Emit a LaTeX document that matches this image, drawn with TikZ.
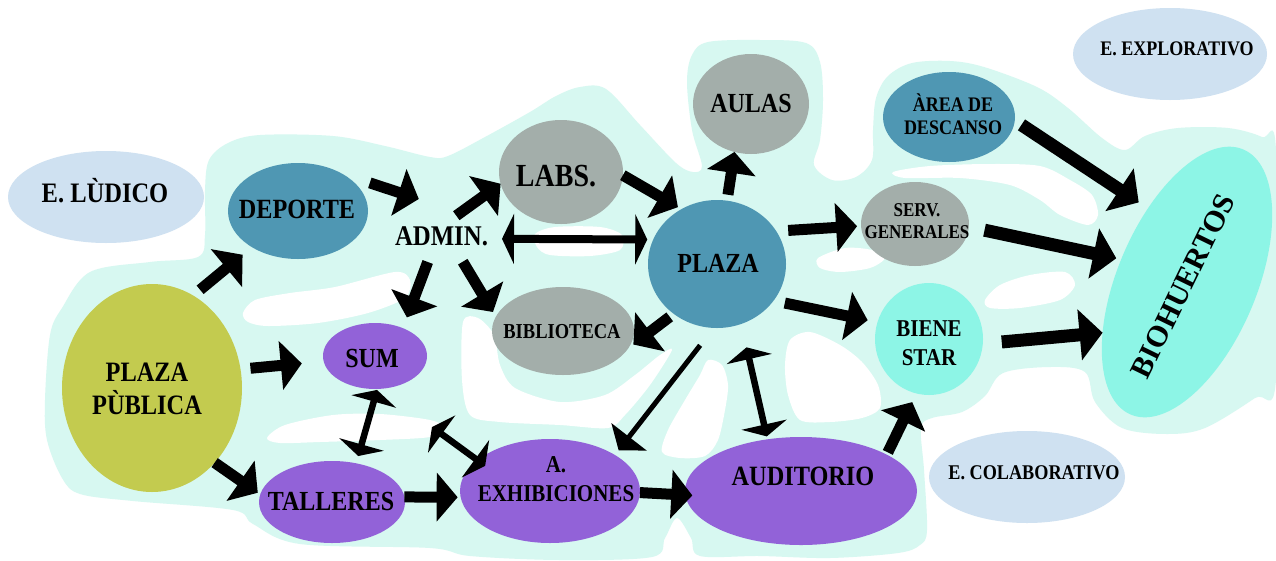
\documentclass[tikz,border=0pt]{standalone}
\usepackage{fontspec}
\setmainfont{Liberation Serif}[BoldFont={Liberation Serif Bold}]
\usetikzlibrary{arrows.meta,shapes.geometric}
\definecolor{mint}{RGB}{215,248,241}
\definecolor{lblue}{RGB}{207,225,241}
\definecolor{teal}{RGB}{79,151,179}
\definecolor{grayn}{RGB}{163,174,170}
\definecolor{purp}{RGB}{146,98,216}
\definecolor{olive}{RGB}{195,203,79}
\definecolor{cyann}{RGB}{141,245,230}
\newcommand\myfs[1]{\bfseries\fontsize{#1}{#1}\selectfont}
\newcommand\myfsb[2]{\bfseries\fontsize{#1}{#2}\selectfont}
\begin{document}
\begin{tikzpicture}[x=1pt,y=-1pt,
  ell/.style={ellipse, inner sep=0pt, outer sep=0pt, draw=none},
  txt/.style={inner sep=0pt, outer sep=0pt, anchor=base, yscale=1.15, transform shape},
  mtxt/.style={inner sep=0pt, outer sep=0pt, anchor=center, align=center, yscale=1.15, transform shape},
  bigarrow/.style={line width=11pt, -{Triangle[length=21pt,width=48pt]}},
  bigarrowB/.style={line width=13pt, -{Triangle[length=23pt,width=50pt]}},
  thinarrow/.style={line width=5pt, -{Triangle[length=17pt,width=44pt]}},
  dblarrow/.style={line width=6.5pt, {Triangle[length=12pt,width=46pt]}-{Triangle[length=12pt,width=46pt]}},
  dblarrowA/.style={line width=8pt, {Triangle[length=12pt,width=50pt]}-{Triangle[length=12pt,width=50pt]}}
]
\useasboundingbox (0,0) rectangle (1276,560);
\fill[white] (0,0) rectangle (1276,560);
% background blob
\fill[mint] plot[smooth cycle, tension=0.55] coordinates {
(47,440) (45,400) (50,335) (62,308) (90,272) (150,262) (198,257) (205,235) (205,190) (209,160) (228,143) (260,135) (333,136) (385,146) (430,157) (448,156) (485,137) (530,112) (556,96) (580,87) (606,89) (640,125) (676,163) (693,172) (702,166) (692,130) (687,82) (692,55) (708,42) (760,40) (806,43) (820,62) (823,100) (820,140) (814,165) (832,180) (856,177) (872,160) (873,130) (876,98) (888,76) (912,63) (950,61) (984,67) (1037,87) (1068,108) (1102,138) (1125,150) (1145,136) (1178,128) (1228,128) (1262,137) (1276,150) (1276,380) (1255,398) (1205,428) (1167,434) (1122,428) (1095,402) (1085,372) (1050,367) (1003,373) (985,396) (962,412) (932,418) (921,428) (924,470) (927,530) (920,545) (898,553) (830,558) (760,556) (700,556) (691,538) (677,518) (665,538) (652,557) (560,560) (470,556) (430,548) (300,544) (253,524) (233,510) (133,501) (80,494) (62,478)};
% holes
\fill[white] plot[smooth cycle] coordinates {(243,313) (255,300) (290,293) (335,287) (395,272) (410,280) (405,298) (368,313) (318,323) (268,326) (248,322)};
\fill[white] plot[smooth cycle] coordinates {(267,438) (285,425) (333,415) (380,414) (430,420) (445,428) (430,437) (380,440) (320,442) (280,443)};
\fill[white] plot[smooth cycle] coordinates {(535,234) (555,227) (600,227) (622,235) (620,250) (590,256) (550,255) (537,247)};
\fill[white] plot[smooth cycle] coordinates {(463,322) (478,318) (494,335) (500,365) (515,388) (560,402) (605,395) (635,375) (660,355) (672,350) (650,385) (625,415) (608,428) (560,425) (500,422) (470,415) (462,380)};
\fill[white] plot[smooth cycle] coordinates {(708,360) (722,365) (728,385) (725,410) (718,440) (705,456) (680,458) (662,452) (668,430) (685,400) (700,375)};
\fill[white] plot[smooth cycle] coordinates {(790,340) (810,332) (840,345) (862,362) (878,385) (880,408) (862,418) (830,422) (800,420) (788,395) (785,365)};
\fill[white] plot[smooth cycle] coordinates {(818,258) (845,248) (872,250) (885,258) (870,268) (840,272) (820,268)};
\fill[white] plot[smooth cycle] coordinates {(985,300) (1000,285) (1030,275) (1065,272) (1075,285) (1060,300) (1020,308) (990,308)};
\fill[white] plot[smooth cycle] coordinates {(893,172) (930,166) (990,164) (1040,166) (1070,180) (1092,195) (1098,215) (1088,225) (1060,215) (1040,200) (1010,185) (960,178) (905,178)};
% ellipses
\node[ell, fill=lblue, minimum width=196, minimum height=92] (ludico) at (106,197) {};
\node[ell, fill=teal, minimum width=140, minimum height=96] (deporte) at (298,211) {};
\node[ell, fill=olive, minimum width=180, minimum height=208] (ppub) at (152,388) {};
\node[ell, fill=purp, minimum width=104, minimum height=66] (sum) at (375,356) {};
\node[ell, fill=purp, minimum width=146, minimum height=82] (talleres) at (332,502) {};
\node[ell, fill=grayn, minimum width=124, minimum height=104] (labs) at (561,172) {};
\node[ell, fill=grayn, minimum width=142, minimum height=88] (biblio) at (563,331) {};
\node[ell, fill=teal, minimum width=138, minimum height=128] (plaza) at (717,264) {};
\node[ell, fill=grayn, minimum width=116, minimum height=100] (aulas) at (751,104) {};
\node[ell, fill=teal, minimum width=132, minimum height=90] (area) at (949,117) {};
\node[ell, fill=grayn, minimum width=108, minimum height=84] (serv) at (915,224) {};
\node[ell, fill=cyann, minimum width=108, minimum height=112] (biene) at (929,339) {};
\node[ell, fill=lblue, minimum width=194, minimum height=92] (explor) at (1170,54) {};
\node[ell, fill=cyann, rotate=67, minimum width=288, minimum height=139] (bio) at (1187,282) {};
\node[ell, fill=lblue, minimum width=196, minimum height=92] (colab) at (1027,477) {};
\node[ell, fill=purp, minimum width=180, minimum height=104] (exhib) at (550,491) {};
\node[ell, fill=purp, minimum width=232, minimum height=108] (audit) at (801,491) {};
% texts
\node[txt, font=\myfs{24.5}] (t-ludico) at (105,202) {E. LÙDICO};
\node[txt, font=\myfs{24.2}] (t-deporte) at (297,218) {DEPORTE};
\node[mtxt, font=\myfsb{24.4}{28.7}] (t-ppub) at (147,389.2) {PLAZA\\PÙBLICA};
\node[txt, font=\myfs{24}] (t-sum) at (372,367) {SUM};
\node[txt, font=\myfs{24}] (t-talleres) at (331,510.5) {TALLERES};
\node[txt, inner sep=3pt, font=\myfs{24.8}] (admin) at (441.5,245) {ADMIN.};
\node[txt, font=\myfs{28}] (t-labs) at (556,186) {LABS.};
\node[txt, font=\myfs{18.5}] (t-biblio) at (562,338.3) {BIBLIOTECA};
\node[txt, font=\myfs{24}] (t-plaza) at (718,272) {PLAZA};
\node[txt, font=\myfs{24}] (t-aulas) at (751,112) {AULAS};
\node[mtxt, font=\myfsb{18}{20}] (t-area) at (953,114.4) {ÀREA DE\\DESCANSO};
\node[mtxt, font=\myfsb{17}{19.1}] (t-serv) at (917,221.5) {SERV.\\GENERALES};
\node[mtxt, font=\myfsb{21}{25.2}] (t-biene) at (929,343.5) {BIENE\\STAR};
\node[txt, font=\myfs{18}] (t-explor) at (1177,55) {E. EXPLORATIVO};
\node[txt, font=\myfs{18.2}] (t-colab) at (1034,479) {E. COLABORATIVO};
\node[inner sep=0pt, rotate=64, font=\myfs{30}] (t-bio) at (1183,286) {BIOHUERTOS};
\node[mtxt, font=\myfsb{21}{25.2}] (t-exhib) at (556,479.5) {A.\\EXHIBICIONES};
\node[txt, font=\myfs{24.3}] (t-audit) at (803,485) {AUDITORIO};
\coordinate (xfree) at (432,427);
% arrows
\draw[bigarrow, shorten <=9pt, shorten >=12pt] (ppub.66) -- (deporte.218.5);
\draw[bigarrow, shorten <=29pt, shorten >=76pt] (deporte.40) -- (admin.north east);
\draw[bigarrow, shorten <=12pt] (admin.66) -- (labs.191);
\draw[dblarrowA, shorten <=11pt, shorten >=6pt] (admin.-3) -- (plaza.159.4);
\draw[bigarrow, shorten <=14pt, shorten >=11.5pt] (admin.232) -- (sum.45);
\draw[bigarrow, shorten <=15pt, shorten >=5.5pt] (admin.-40) -- (biblio.168);
\draw[bigarrow, shorten >=4pt] (labs.-3) -- (plaza.123);
\draw[bigarrow, shorten <=6pt] (plaza.81) -- (aulas.251);
\draw[bigarrow, shorten <=5pt, shorten >=6.5pt] (plaza.229) -- (biblio.-15);
\draw[thinarrow, shorten <=22pt, shorten >=6pt] (plaza.267) -- (exhib.29);
\draw[dblarrow, shorten <=24pt, shorten >=3pt] (plaza.292.5) -- (audit.123);
\draw[bigarrow, shorten <=12pt, shorten >=4pt] (plaza.29) -- (serv.182);
\draw[bigarrow, shorten <=11.5pt, shorten >=10pt] (plaza.-33) -- (biene.162);
\draw[bigarrowB, shorten <=8pt, shorten >=11pt] (area.-3) -- (bio.51.6);
\draw[bigarrowB, shorten <=16pt, shorten >=5pt] (serv.-3) -- (bio.94);
\draw[bigarrowB, shorten <=19pt] (biene.-5) -- (bio.144);
\draw[bigarrow, shorten <=2.5pt, shorten >=9.6pt] (audit.23) -- (biene.257);
\draw[bigarrow, shorten >=-7pt] (exhib.-1) -- (audit.182);
\draw[bigarrow, shorten >=3pt] (talleres.4) -- (exhib.184.5);
\draw[bigarrow, shorten <=10pt, shorten >=22pt] (ppub.12) -- (sum.186);
\draw[bigarrow, shorten >=3pt] (ppub.-50) -- (talleres.174);
\draw[dblarrow, shorten <=1pt, shorten >=7.6pt] (sum.274) -- (talleres.58);
\draw[dblarrow, shorten >=-9.5pt] (xfree) -- (exhib.157);
\end{tikzpicture}
\end{document}
